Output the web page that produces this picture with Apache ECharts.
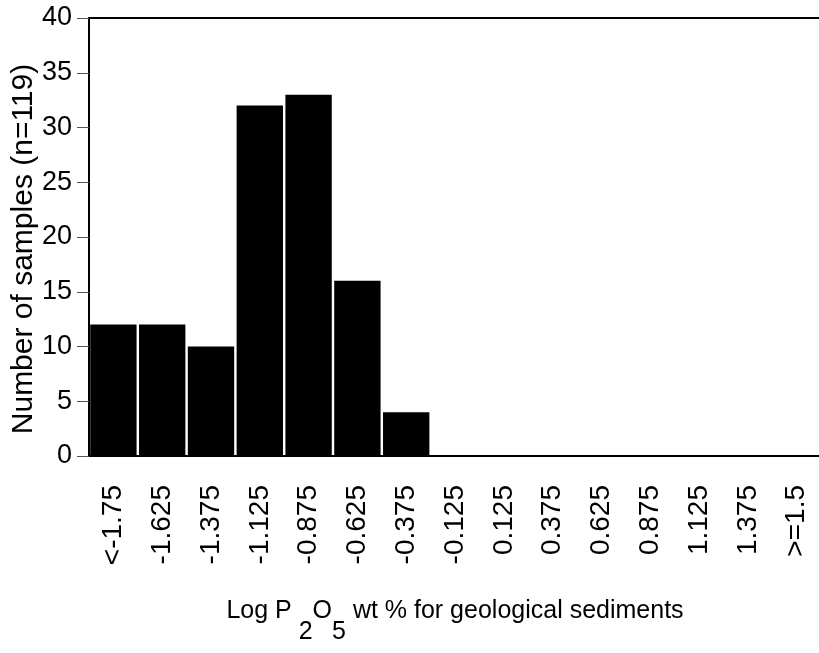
<!DOCTYPE html>
<html>
<head>
<meta charset="utf-8">
<title>Log P2O5 histogram</title>
<script src="https://cdn.jsdelivr.net/npm/echarts@6/dist/echarts.min.js"></script>
<style>
  html, body { margin: 0; padding: 0; background: #fff; }
  #chart { width: 819px; height: 653px; }
</style>
</head>
<body>
<div id="chart"></div>
<script>
// Bin labels (log10 of P2O5 wt %) and sample counts per bin
const categories = ['<-1.75', '-1.625', '-1.375', '-1.125', '-0.875', '-0.625', '-0.375',
  '-0.125', '0.125', '0.375', '0.625', '0.875', '1.125', '1.375', '>=1.5'];
const counts = [12, 12, 10, 32, 33, 16, 4, 0, 0, 0, 0, 0, 0, 0, 0];
const yTicks = { min: 0, max: 40, interval: 5 };

const FONT = '"Liberation Sans", Arial, sans-serif';
const chart = echarts.init(document.getElementById('chart'), null, { renderer: 'canvas' });

chart.setOption({
  backgroundColor: '#fff',
  animation: false,
  grid: { left: 89, top: 18, width: 732, height: 438, outerBoundsMode: 'none', containLabel: false },
  xAxis: [{
    type: 'category',
    data: categories,
    // subscripts drawn as full-size digits dropped below the baseline
    name: '{t|Log P }{s|2}{t|O}{s|5}{t| wt % for geological sediments}',
    nameLocation: 'middle',
    nameGap: 143,
    nameMoveOverlap: false,
    nameTextStyle: {
      fontFamily: FONT,
      color: '#000',
      rich: {
        t: { fontFamily: FONT, fontSize: 25, color: '#000', lineHeight: 26, verticalAlign: 'top' },
        s: { fontFamily: FONT, fontSize: 25, color: '#000', lineHeight: 66 }
      }
    },
    axisLine: { lineStyle: { color: '#000', width: 2 } },
    axisTick: { length: 14, lineStyle: { color: '#555', width: 1 } },
    axisLabel: {
      rotate: 90, interval: 0, margin: 29,
      fontFamily: FONT, fontSize: 28, color: '#000'
    },
    splitLine: { show: false }
  }, {
    // plain frame line along the top of the plot
    type: 'category',
    position: 'top',
    data: categories,
    axisLine: { show: true, lineStyle: { color: '#000', width: 2 } },
    axisTick: { show: false },
    axisLabel: { show: false },
    splitLine: { show: false }
  }],
  yAxis: {
    type: 'value',
    min: yTicks.min, max: yTicks.max, interval: yTicks.interval,
    name: 'Number of samples (n=119)',
    nameLocation: 'middle',
    nameGap: 50,
    nameMoveOverlap: false,
    nameTextStyle: { fontFamily: FONT, fontSize: 30, color: '#000', padding: [0, 24, 0, 0] },
    axisLine: { show: true, lineStyle: { color: '#000', width: 2 } },
    axisTick: { show: true, length: 12, lineStyle: { color: '#555', width: 1 } },
    axisLabel: { margin: 17, fontFamily: FONT, fontSize: 27, color: '#000' },
    splitLine: { show: false }
  },
  series: [{
    type: 'bar',
    data: counts,
    barCategoryGap: '5%',
    itemStyle: { color: '#000' }
  }]
});
</script>
</body>
</html>
